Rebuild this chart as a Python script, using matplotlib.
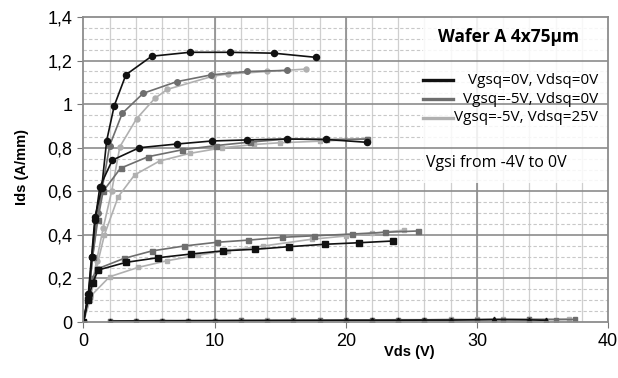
import matplotlib
matplotlib.use("Agg")
import matplotlib.pyplot as plt
from matplotlib.patches import Rectangle

# Vgsq=0V, Vdsq=0V (black)
v_blk_top = [0, 0.37, 0.62, 0.88, 1.39, 1.77, 2.35, 3.24, 5.2, 8.1, 11.2, 14.5, 17.7]
i_blk_top = [0, 0.13, 0.30, 0.48, 0.615, 0.832, 0.993, 1.135, 1.22, 1.238, 1.238, 1.234, 1.215]
v_blk_mid = [0, 0.4, 0.65, 0.9, 1.25, 2.2, 4.25, 7.1, 9.8, 12.5, 15.5, 18.5, 21.6]
i_blk_mid = [0, 0.13, 0.30, 0.47, 0.62, 0.743, 0.80, 0.817, 0.831, 0.836, 0.84, 0.838, 0.825]
v_blk_low = [0, 0.35, 0.7, 1.13, 3.24, 5.65, 8.17, 10.66, 13.1, 15.7, 18.4, 21.0, 23.6]
i_blk_low = [0, 0.10, 0.18, 0.239, 0.274, 0.295, 0.312, 0.327, 0.334, 0.346, 0.357, 0.364, 0.372]
v_blk_off = [2, 4, 6, 8, 10, 12, 14, 16, 18, 20, 22, 24, 26, 28, 31.3, 34, 35.3]
i_blk_off = [0.004, 0.005, 0.005, 0.006, 0.006, 0.006, 0.007, 0.007, 0.007, 0.008, 0.008, 0.008, 0.009, 0.009, 0.012, 0.010, 0.008]

# Vgsq=-5V, Vdsq=0V (dark grey)
v_dg_top = [0, 0.4, 0.7, 1.1, 1.45, 2.0, 2.96, 4.56, 7.1, 9.7, 12.5, 15.5]
i_dg_top = [0, 0.12, 0.30, 0.50, 0.62, 0.81, 0.958, 1.05, 1.103, 1.134, 1.15, 1.155]
v_dg_mid = [0, 0.4, 0.7, 1.1, 1.5, 2.83, 4.94, 7.48, 10.1, 12.7, 15.5, 18.5, 21.6]
i_dg_mid = [0, 0.12, 0.30, 0.47, 0.60, 0.706, 0.759, 0.79, 0.81, 0.826, 0.84, 0.838, 0.84]
v_dg_low = [0, 0.35, 0.65, 1.1, 3.09, 5.2, 7.66, 10.15, 12.56, 15.15, 17.6, 20.5, 23.0, 25.5]
i_dg_low = [0, 0.12, 0.20, 0.245, 0.292, 0.326, 0.349, 0.366, 0.376, 0.389, 0.396, 0.404, 0.412, 0.418]
v_dg_off = [2, 4, 6, 8, 10, 12, 14, 16, 18, 20, 22, 24, 26, 28, 30, 32, 34, 36, 37.5]
i_dg_off = [0.006, 0.005, 0.007, 0.006, 0.007, 0.008, 0.007, 0.008, 0.009, 0.008, 0.009, 0.010, 0.010, 0.011, 0.010, 0.011, 0.012, 0.011, 0.012]

# Vgsq=-5V, Vdsq=25V (light grey)
v_lg_top = [0, 0.5, 1.0, 1.5, 2.15, 2.78, 4.05, 5.45, 6.4, 9.9, 11.0, 14.0, 16.95]
i_lg_top = [0, 0.12, 0.28, 0.43, 0.60, 0.805, 0.933, 1.027, 1.068, 1.129, 1.138, 1.15, 1.161]
v_lg_mid = [0, 0.5, 1.0, 1.6, 2.65, 3.9, 5.8, 8.1, 10.6, 13.0, 15.0, 18.0, 21.6]
i_lg_mid = [0, 0.10, 0.25, 0.40, 0.575, 0.675, 0.739, 0.774, 0.80, 0.815, 0.823, 0.83, 0.84]
v_lg_low = [0, 0.5, 2.0, 4.18, 6.34, 8.75, 11.0, 13.7, 17.4, 20.0, 22.0, 24.45]
i_lg_low = [0, 0.116, 0.208, 0.251, 0.281, 0.307, 0.328, 0.349, 0.38, 0.395, 0.407, 0.422]
v_lg_off = [2, 4, 6, 8, 10, 12, 14, 16, 18, 20, 22, 24, 26, 28, 30, 32, 34, 37]
i_lg_off = [0.005, 0.006, 0.006, 0.007, 0.007, 0.008, 0.008, 0.009, 0.009, 0.010, 0.010, 0.011, 0.011, 0.012, 0.012, 0.013, 0.013, 0.014]

x_ticks = [0, 10, 20, 30, 40]
y_ticks = [0, 0.2, 0.4, 0.6, 0.8, 1.0, 1.2, 1.4]
y_labels = ["0", "0,2", "0,4", "0,6", "0,8", "1", "1,2", "1,4"]
legend_labels = ["Vgsq=0V, Vdsq=0V", "Vgsq=-5V, Vdsq=0V", "Vgsq=-5V, Vdsq=25V"]

c_blk = "#111111"
c_dg = "#6e6e6e"
c_lg = "#b0b0b0"

fig = plt.figure(figsize=(6.18, 3.78), dpi=100)
ax = fig.add_axes([0.135, 0.148, 0.849, 0.807])
ax.set_xlim(0, 40)
ax.set_ylim(0, 1.4)

# grid
for v in range(2, 40, 2):
    ax.axvline(v, color="#cfcfcf", lw=0.9, zorder=0.5)
for v in [10, 20, 30]:
    ax.axvline(v, color="#8c8c8c", lw=1.2, zorder=0.6)
for k in range(1, 28):
    y = k * 0.05
    if k % 4 != 0:
        ax.axhline(y, color="#c8c8c8", lw=0.8, ls=(0, (3, 2)), zorder=0.5)

# legend panel
ax.add_patch(Rectangle((0.647, 0.457), 0.353, 0.543, transform=ax.transAxes,
                       facecolor="white", edgecolor="none", alpha=0.85, zorder=1.5))
for y in [0.2, 0.4, 0.6, 0.8, 1.0, 1.2]:
    ax.axhline(y, color="#8c8c8c", lw=1.2, zorder=2)

def curve(v, i, c, m, ms=4.2):
    ax.plot(v, i, color=c, lw=1.2, marker=m, ms=ms, mfc=c, mec=c, zorder=3)

curve(v_lg_top, i_lg_top, c_lg, "o", 3.6)
curve(v_lg_mid, i_lg_mid, c_lg, "s", 3.4)
curve(v_lg_low, i_lg_low, c_lg, "s", 3.4)
curve(v_lg_off, i_lg_off, c_lg, "s", 3.2)
curve(v_dg_top, i_dg_top, c_dg, "o", 4.0)
curve(v_dg_mid, i_dg_mid, c_dg, "s", 3.6)
curve(v_dg_low, i_dg_low, c_dg, "s", 3.6)
curve(v_dg_off, i_dg_off, c_dg, "s", 3.2)
curve(v_blk_top, i_blk_top, c_blk, "o", 4.4)
curve(v_blk_mid, i_blk_mid, c_blk, "o", 4.4)
curve(v_blk_low, i_blk_low, c_blk, "s", 4.0)
curve(v_blk_off, i_blk_off, c_blk, "^", 3.4)

ax.set_xticks(x_ticks)
ax.set_yticks(y_ticks)
ax.set_yticklabels(y_labels)
ax.tick_params(labelsize=13, length=4, color="#777777", direction="out", pad=4)
for lab in ax.get_xticklabels() + ax.get_yticklabels():
    lab.set_family("Liberation Sans")
for s in ax.spines.values():
    s.set_color("#8c8c8c")
    s.set_linewidth(1.3)
    s.set_zorder(4)

fig.text(409 / 618, 1 - 352 / 378, "Vds (V)", fontsize=10.5, fontweight="bold",
         family="Liberation Sans", ha="center", va="center")
fig.text(22 / 618, 1 - 167 / 378, "Ids (A/mm)", fontsize=10.5, fontweight="bold",
         family="Liberation Sans", ha="center", va="center", rotation=90)

# legend, drawn by hand so the labels can be right aligned
ax.text(0.811, 0.935, "Wafer A 4x75\u00b5m", transform=ax.transAxes, fontsize=12.5,
        fontweight="bold", family="Open Sans", ha="center", va="center", zorder=5)
for k, (lab, c) in enumerate(zip(legend_labels, [c_blk, c_dg, c_lg])):
    yy = 0.793 - k * 0.062
    ax.plot([0.647, 0.704], [yy, yy], color=c, lw=2.4, transform=ax.transAxes,
            clip_on=False, zorder=5)
    ax.text(0.981, yy, lab, transform=ax.transAxes, fontsize=11, family="Open Sans",
            ha="right", va="center", zorder=5)
ax.text(0.652, 0.522, "Vgsi from -4V to 0V", transform=ax.transAxes, fontsize=11.5,
        family="Open Sans", ha="left", va="center", zorder=5)

fig.savefig("out.png", dpi=100)
